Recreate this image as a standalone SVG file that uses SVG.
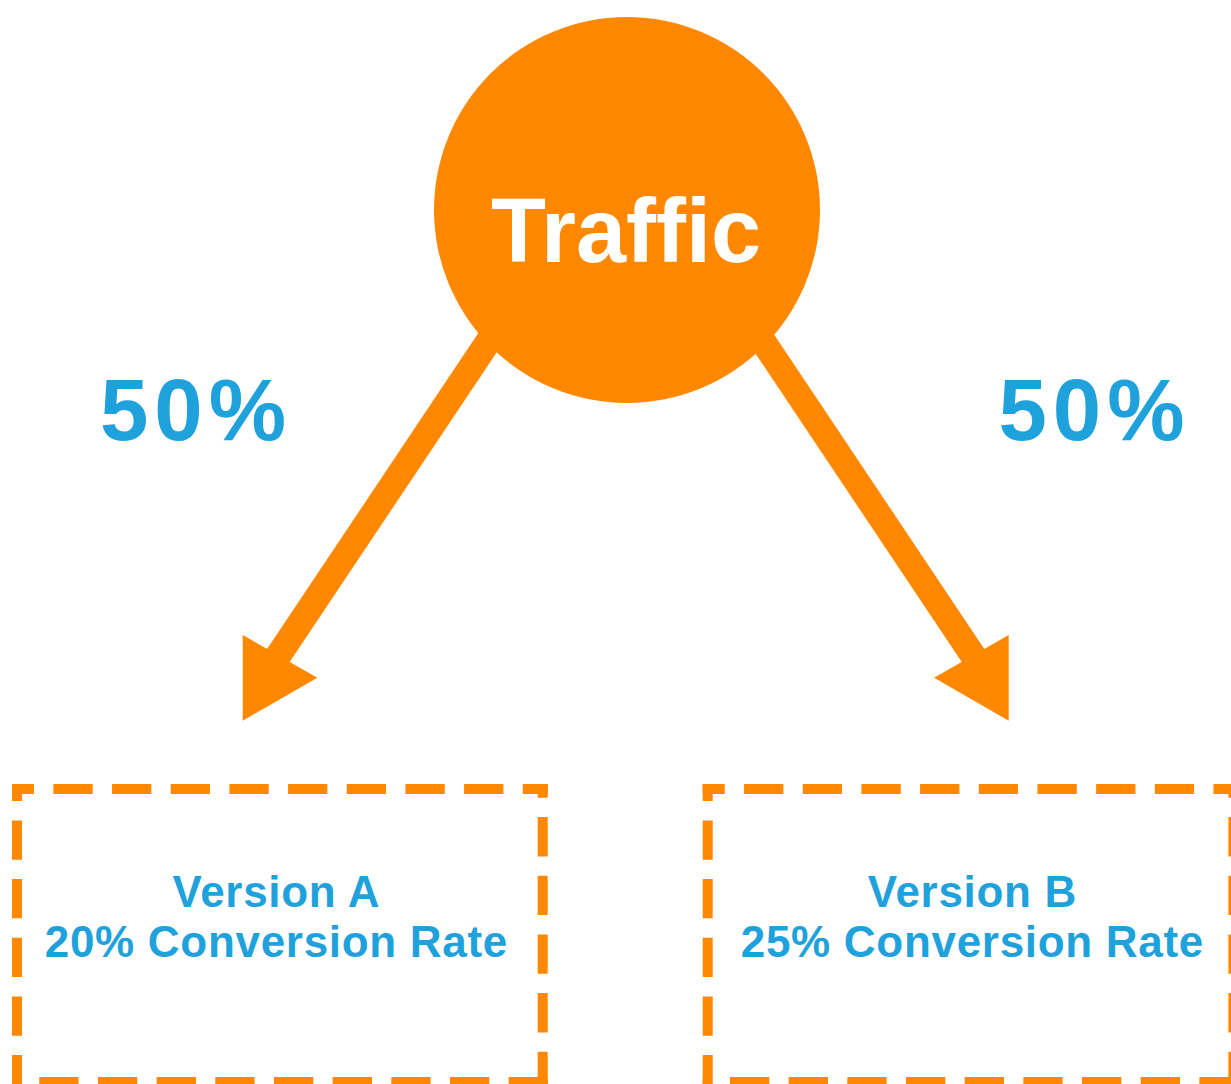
<svg xmlns="http://www.w3.org/2000/svg" width="1231" height="1084" viewBox="0 0 1231 1084">
  <style>
    .orange { fill: #FF8800; }
    .shaft { stroke: #FF8800; stroke-width: 26; stroke-linecap: butt; fill: none; }
    .frame line { stroke: #FF8800; stroke-width: 10; stroke-linecap: butt; stroke-dasharray: 39.3 19.375; fill: none; }
    .label { font-family: "Liberation Sans", Arial, sans-serif; font-weight: 700; text-anchor: middle; }
    .share { font-size: 87px; letter-spacing: 6px; }
    .caption { font-size: 44px; letter-spacing: 0.7px; }
    .blue { fill: #1FA2DC; }
    .white { fill: #FFFFFF; }
  </style>
  <defs>
    <!-- dashed frame, 535.7 x 303 outer; each side carries its own dash phase -->
    <g id="dashed-frame" class="frame">
      <line x1="12" y1="789" x2="547.7" y2="789" stroke-dashoffset="17.3"/>
      <line x1="542.7" y1="784" x2="542.7" y2="1087" stroke-dashoffset="25.6"/>
      <line x1="12" y1="1082" x2="547.7" y2="1082" stroke-dashoffset="31.4"/>
      <line x1="17" y1="784" x2="17" y2="1087" stroke-dashoffset="22.3"/>
    </g>
  </defs>

  <rect width="1231" height="1084" fill="#FFFFFF"/>

  <!-- connectors: two thick arrows splitting the traffic -->
  <g id="connectors">
    <g id="arrow-a">
      <line class="shaft" x1="496" y1="330" x2="270" y2="668"/>
      <polygon class="orange" points="242.7,635 317.3,677.7 242.7,720.7"/>
    </g>
    <g id="arrow-b">
      <line class="shaft" x1="755.4" y1="330" x2="981.4" y2="668"/>
      <polygon class="orange" points="1008.7,635 934.1,677.7 1008.7,720.7"/>
    </g>
  </g>

  <g id="traffic">
    <circle class="orange" cx="627" cy="210" r="193"/>
    <text class="label white" x="626" y="262" font-size="90">Traffic</text>
  </g>

  <g id="split-a">
    <text class="label blue share" x="196" y="440">50%</text>
  </g>
  <g id="split-b">
    <text class="label blue share" x="1094.5" y="440">50%</text>
  </g>

  <g id="version-a">
    <use href="#dashed-frame"/>
    <text class="label blue caption" x="276.4" y="906.7">Version A</text>
    <text class="label blue caption" x="276.4" y="957.3">20% Conversion Rate</text>
  </g>

  <g id="version-b">
    <use href="#dashed-frame" transform="translate(690.7,0)"/>
    <text class="label blue caption" x="972.4" y="906.7">Version B</text>
    <text class="label blue caption" x="972.4" y="957.3">25% Conversion Rate</text>
  </g>
</svg>
